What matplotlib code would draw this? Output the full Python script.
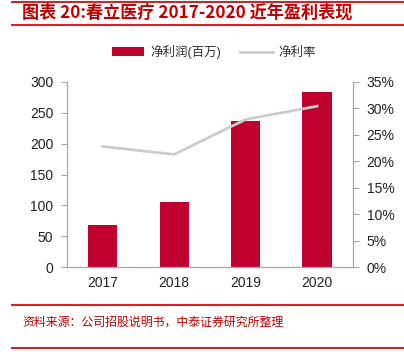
import matplotlib.pyplot as plt
import matplotlib.ticker as ticker

# data
years = ["2017", "2018", "2019", "2020"]
profit = [69, 105, 237, 283]          # 净利润(百万)
margin = [22.8, 21.3, 27.9, 30.4]     # 净利率 %

barColor = "#C0002F"
lineColor = "#CCCCCC"
red = "#C00000"
gray = "#A6A6A6"

plt.rcParams['font.family'] = ['Liberation Sans', 'Noto Sans CJK SC', 'DejaVu Sans']

f = plt.figure(figsize=(4.04, 3.52), dpi=100)
ax1 = f.add_axes([0.166, 0.2406, 0.707, 0.527])
ax2 = ax1.twinx()

x = range(len(years))
ax1.bar(x, profit, width=0.41, color=barColor, label="净利润(百万)", zorder=2)
ax2.plot(x, margin, color=lineColor, linewidth=2, label="净利率", zorder=3)

ax1.set_xlim(-0.5, 3.5)
ax1.set_ylim(0, 300)
ax1.yaxis.set_major_locator(ticker.MultipleLocator(50))
ax2.set_ylim(0, 35)
ax2.yaxis.set_major_locator(ticker.MultipleLocator(5))
ax2.yaxis.set_major_formatter(ticker.FuncFormatter(lambda v, p: "%d%%" % v))
ax1.set_xticks(list(x))
ax1.set_xticklabels(years)

for ax in (ax1, ax2):
    for s in ax.spines.values():
        s.set_color(gray)
        s.set_linewidth(0.8)
    ax.spines['top'].set_visible(False)
    ax.tick_params(colors=gray, labelcolor="#222222", labelsize=10, length=4, width=0.8)
ax1.tick_params(axis='x', length=0, pad=6)
ax1.tick_params(axis='y', pad=6)
ax2.tick_params(axis='y', pad=6)

# legend
h1, l1 = ax1.get_legend_handles_labels()
h2, l2 = ax2.get_legend_handles_labels()
f.legend(h1 + h2, l1 + l2, loc='center', bbox_to_anchor=(0.53, 0.852), ncol=2,
         frameon=False, fontsize=9, handlelength=2.6, handleheight=0.7,
         columnspacing=1.5, handletextpad=0.5, labelcolor="#333333")

# title, source and rules
f.text(0.055, 0.964, "图表 20:春立医疗 2017-2020 近年盈利表现", color=red,
       fontsize=12.3, fontweight='bold', style='italic', va='center',
       family=['Noto Sans CJK SC', 'DejaVu Sans'])
f.text(0.055, 0.085, "资料来源：公司招股说明书，中泰证券研究所整理", color=red,
       fontsize=8.6, va='center', family=['Noto Sans CJK SC', 'DejaVu Sans'])
for yy in (0.929, 0.134, 0.011):
    f.add_artist(plt.Line2D([0.03, 1.0], [yy, yy], color="#C82828", linewidth=1.5))
f.add_artist(plt.Line2D([0.03, 1.0], [0.995, 0.995], color="#C82828", linewidth=1.5))

plt.savefig("out.png", dpi=100)
